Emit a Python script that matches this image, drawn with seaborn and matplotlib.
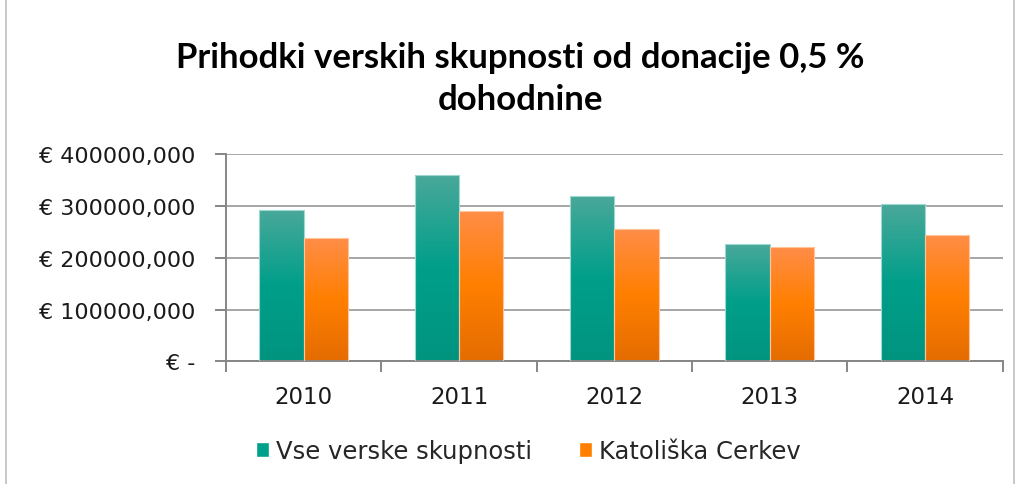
import numpy as np
import pandas as pd
import seaborn as sns
import matplotlib.pyplot as plt
from matplotlib.colors import LinearSegmentedColormap
from matplotlib.patches import Patch, Rectangle
from matplotlib.ticker import FuncFormatter

# data (EUR)
years = ['2010', '2011', '2012', '2013', '2014']
vse = [292000, 359700, 319700, 227000, 303000]
katoliska = [237400, 290000, 254800, 220000, 243800]
series_names = ['Vse verske skupnosti', 'Katoliška Cerkev']

df = pd.DataFrame({
    'leto': years * 2,
    'znesek': vse + katoliska,
    'skupina': [series_names[0]] * len(years) + [series_names[1]] * len(years),
})

sns.set_theme(style='white')
plt.rcParams['font.family'] = ['DejaVu Sans']

fig = plt.figure(figsize=(10.18, 4.85), dpi=100)
ax = fig.add_axes([0.222, 0.253, 0.763, 0.427])

teal = '#00a08a'
orange = '#ff7f00'
ax = sns.barplot(data=df, x='leto', y='znesek', hue='skupina', hue_order=series_names,
                 palette=[teal, orange], width=0.57, gap=0, legend=False, ax=ax,
                 zorder=2)

# gradient fill, lighter at the top like the original Excel bars
grads = {
    teal: LinearSegmentedColormap.from_list('t', ['#00947f', '#009f8a', '#4aa89a']),
    orange: LinearSegmentedColormap.from_list('o', ['#e46c00', '#ff7f00', '#ff8d48']),
}
edges = {teal: '#9fd8cf', orange: '#ffc49a'}
grad = np.linspace(0, 1, 256).reshape(-1, 1)
for i, p in enumerate(ax.patches):
    c = teal if i < len(years) else orange
    x0, y0 = p.get_x(), p.get_y()
    w, h = p.get_width(), p.get_height()
    im = ax.imshow(grad, extent=[x0, x0 + w, y0, y0 + h], origin='lower', aspect='auto',
                   cmap=grads[c], zorder=2.5)
    im.set_clip_path(p)
    p.set_edgecolor(edges[c])
    p.set_linewidth(0.8)
    p.set_zorder(3)
    p.set_facecolor('none')

ax.set_xlim(-0.5, len(years) - 0.5)
ax.set_ylim(0, 400000)
ax.set_yticks([0, 100000, 200000, 300000, 400000])
ax.yaxis.set_major_formatter(FuncFormatter(
    lambda v, _: '€ -' if v == 0 else '€ ' + f'{v:.3f}'.replace('.', ',')))
ax.yaxis.grid(True, color='#a6a6a6', linewidth=1.4, zorder=0)
ax.set_axisbelow(True)
ax.set_xlabel('')
ax.set_ylabel('')

for s in ['top', 'right']:
    ax.spines[s].set_visible(False)
for s in ['left', 'bottom']:
    ax.spines[s].set_color('#868686')
    ax.spines[s].set_linewidth(1.4)

ax.tick_params(axis='y', which='major', left=True, length=8, width=1.4, color='#868686',
               labelsize=16, labelcolor='#1a1a1a', pad=14)
ax.set_xticks(np.arange(-0.5, len(years)), minor=True)
ax.tick_params(axis='x', which='minor', bottom=True, length=8, width=1.4, color='#868686')
ax.tick_params(axis='x', which='major', bottom=False, labelsize=16.5, labelcolor='#1a1a1a', pad=11)

title_font = dict(ha='center', va='center', fontsize=25, fontweight='bold', color='black',
                  family=['Lato', 'DejaVu Sans'])
fig.text(0.511, 0.88, 'Prihodki verskih skupnosti od donacije 0,5 %', **title_font)
fig.text(0.511, 0.793, 'dohodnine', **title_font)

handles = [Patch(facecolor=teal, label=series_names[0]),
           Patch(facecolor=orange, label=series_names[1])]
fig.legend(handles=handles, loc='center', bbox_to_anchor=(0.519, 0.068), ncol=2,
           frameon=False, fontsize=17.5, handlelength=0.55, handleheight=0.55,
           handletextpad=0.3, columnspacing=1.9)

fig.patches.append(Rectangle((0.006, -0.05), 0.99, 1.2, transform=fig.transFigure,
                             fill=False, edgecolor='#bfbfbf', linewidth=1.2))

fig.savefig('out.png', dpi=100, facecolor='white')
